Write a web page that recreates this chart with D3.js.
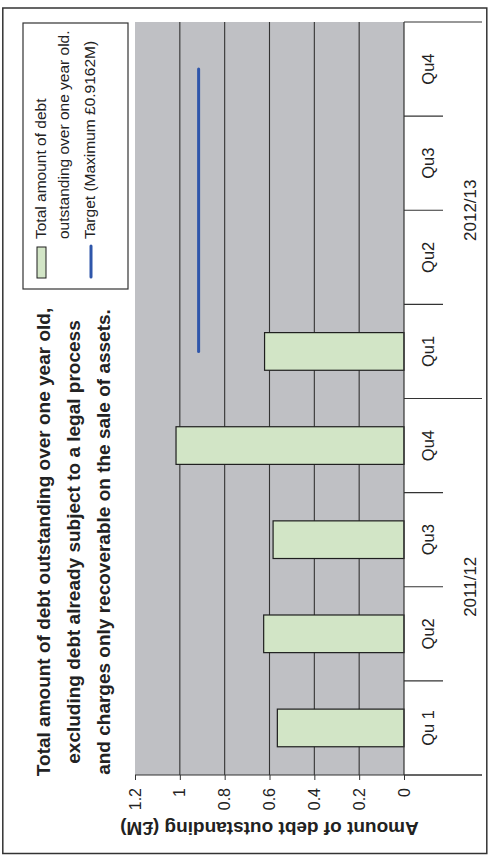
<!DOCTYPE html>
<html>
<head>
<meta charset="utf-8">
<script src="https://cdn.jsdelivr.net/npm/d3@7"></script>
<style>
  html, body { margin: 0; padding: 0; background: #ffffff; }
  svg { display: block; font-family: "Liberation Sans", Arial, sans-serif; }
  svg text { font-family: "Liberation Sans", Arial, sans-serif; }
</style>
</head>
<body>
<svg id="chart" width="493" height="855"></svg>
<script>
// ---- data ----
const categories = ["Qu 1", "Qu2", "Qu3", "Qu4", "Qu1", "Qu2", "Qu3", "Qu4"];
const years = ["2011/12", "2012/13"];
const debt = [0.565, 0.626, 0.584, 1.017, 0.622, null, null, null];
const target = [null, null, null, null, 0.9162, 0.9162, 0.9162, 0.9162];
const yTicks = [0, 0.2, 0.4, 0.6, 0.8, 1, 1.2];
const titleLines = [
  "Total amount of debt outstanding over one year old,",
  "excluding debt already subject to a legal process",
  "and charges only recoverable on the sale of assets."
];
const yAxisTitle = "Amount of debt outstanding (£M)";
const legendLines = ["Total amount of debt", "outstanding over one year old.", "Target (Maximum £0.9162M)"];

// ---- layout (chart is drawn landscape, then rotated -90deg) ----
const W = 855, H = 493;
const svg = d3.select("#chart");
const g = svg.append("g").attr("transform", `translate(0,${W}) rotate(-90)`);

const plot = { left: 80, right: 833, top: 135, bottom: 404 };

const x = d3.scaleBand()
  .domain(d3.range(categories.length))
  .range([plot.left, plot.right])
  .paddingInner(0.6)
  .paddingOuter(0.3);
const step = x.step();
const y = d3.scaleLinear().domain([0, 1.2]).range([plot.bottom, plot.top]);

// outer frame
g.append("rect")
  .attr("x", 1.5).attr("y", 2.8)
  .attr("width", 845.5).attr("height", 484)
  .attr("fill", "none").attr("stroke", "#333").attr("stroke-width", 1.5);

// plot area
g.append("rect")
  .attr("x", plot.left).attr("y", plot.top)
  .attr("width", plot.right - plot.left).attr("height", plot.bottom - plot.top)
  .attr("fill", "#bfc0c4");

// gridlines
g.append("g").selectAll("line")
  .data(yTicks.filter(t => t > 0 && t < 1.2))
  .join("line")
  .attr("x1", plot.left).attr("x2", plot.right)
  .attr("y1", d => y(d)).attr("y2", d => y(d))
  .attr("stroke", "#333").attr("stroke-width", 1.1);

// bars
g.append("g").selectAll("rect")
  .data(debt.map((v, i) => ({ v, i })).filter(d => d.v != null))
  .join("rect")
  .attr("x", d => x(d.i)).attr("width", x.bandwidth())
  .attr("y", d => y(d.v)).attr("height", d => y(0) - y(d.v))
  .attr("fill", "#d2e5c6").attr("stroke", "#1e1e1e").attr("stroke-width", 1.2);

// target line
const line = d3.line()
  .defined(d => d.v != null)
  .x(d => x(d.i) + x.bandwidth() / 2)
  .y(d => y(d.v));
g.append("path")
  .datum(target.map((v, i) => ({ v, i })))
  .attr("d", line)
  .attr("fill", "none").attr("stroke", "#2f56aa")
  .attr("stroke-width", 3).attr("stroke-linecap", "round");

// value axis
const yAxis = d3.axisLeft(y).tickValues(yTicks).tickSize(5).tickPadding(8)
  .tickFormat(d => d3.format("")(d));
const ya = g.append("g").attr("transform", `translate(${plot.left},0)`).call(yAxis);
ya.attr("font-family", null);
ya.select(".domain").remove();
ya.selectAll(".tick line").attr("stroke", "#333");
ya.selectAll(".tick text")
  .attr("font-size", 16).attr("fill", "#222");
g.append("line")
  .attr("x1", plot.left).attr("x2", plot.left)
  .attr("y1", plot.top).attr("y2", 482)
  .attr("stroke", "#333").attr("stroke-width", 1.2);

// category axis baseline
g.append("line")
  .attr("x1", plot.left).attr("x2", plot.right)
  .attr("y1", y(0)).attr("y2", y(0))
  .attr("stroke", "#333").attr("stroke-width", 1.2);

// category tick marks (multi-level)
const bounds = d3.range(categories.length + 1);
g.append("g").selectAll("line")
  .data(bounds)
  .join("line")
  .attr("x1", k => plot.left + k * step).attr("x2", k => plot.left + k * step)
  .attr("y1", y(0))
  .attr("y2", k => (k % 4 === 0) ? 482 : 443)
  .attr("stroke", "#333").attr("stroke-width", 1.1);

// category labels
g.append("g").selectAll("text")
  .data(categories)
  .join("text")
  .attr("x", (d, i) => x(i) + x.bandwidth() / 2)
  .attr("y", 434)
  .attr("text-anchor", "middle")
  .attr("font-size", 16.5).attr("fill", "#222")
  .text(d => d);

// year labels
g.append("g").selectAll("text")
  .data(years)
  .join("text")
  .attr("x", (d, i) => plot.left + (i * 4 + 2) * step)
  .attr("y", 476)
  .attr("text-anchor", "middle")
  .attr("font-size", 17).attr("fill", "#222")
  .text(d => d);

// value axis title
g.append("text")
  .attr("transform", `translate(33,${(plot.top + plot.bottom) / 2}) rotate(-90)`)
  .attr("text-anchor", "middle")
  .attr("font-size", 19).attr("font-weight", "bold").attr("fill", "#222")
  .text(yAxisTitle);

// chart title
g.append("g").selectAll("text")
  .data(titleLines)
  .join("text")
  .attr("x", 313)
  .attr("y", (d, i) => 50 + i * 30)
  .attr("text-anchor", "middle")
  .attr("font-size", 19).attr("font-weight", "bold").attr("fill", "#222")
  .text(d => d);

// legend
const lg = g.append("g");
lg.append("rect")
  .attr("x", 566).attr("y", 23)
  .attr("width", 266).attr("height", 105)
  .attr("fill", "#fff").attr("stroke", "#333").attr("stroke-width", 1.2);
lg.append("rect")
  .attr("x", 577).attr("y", 37).attr("width", 31).attr("height", 9)
  .attr("fill", "#d2e5c6").attr("stroke", "#1e1e1e").attr("stroke-width", 1);
lg.append("line")
  .attr("x1", 578).attr("x2", 609).attr("y1", 91).attr("y2", 91)
  .attr("stroke", "#2f56aa").attr("stroke-width", 3).attr("stroke-linecap", "round");
const legendY = [45.5, 69, 94.5];
lg.selectAll("text.leg")
  .data(legendLines)
  .join("text")
  .attr("class", "leg")
  .attr("x", 616)
  .attr("y", (d, i) => legendY[i])
  .attr("font-size", 15.5).attr("fill", "#222")
  .text(d => d);
</script>
</body>
</html>
